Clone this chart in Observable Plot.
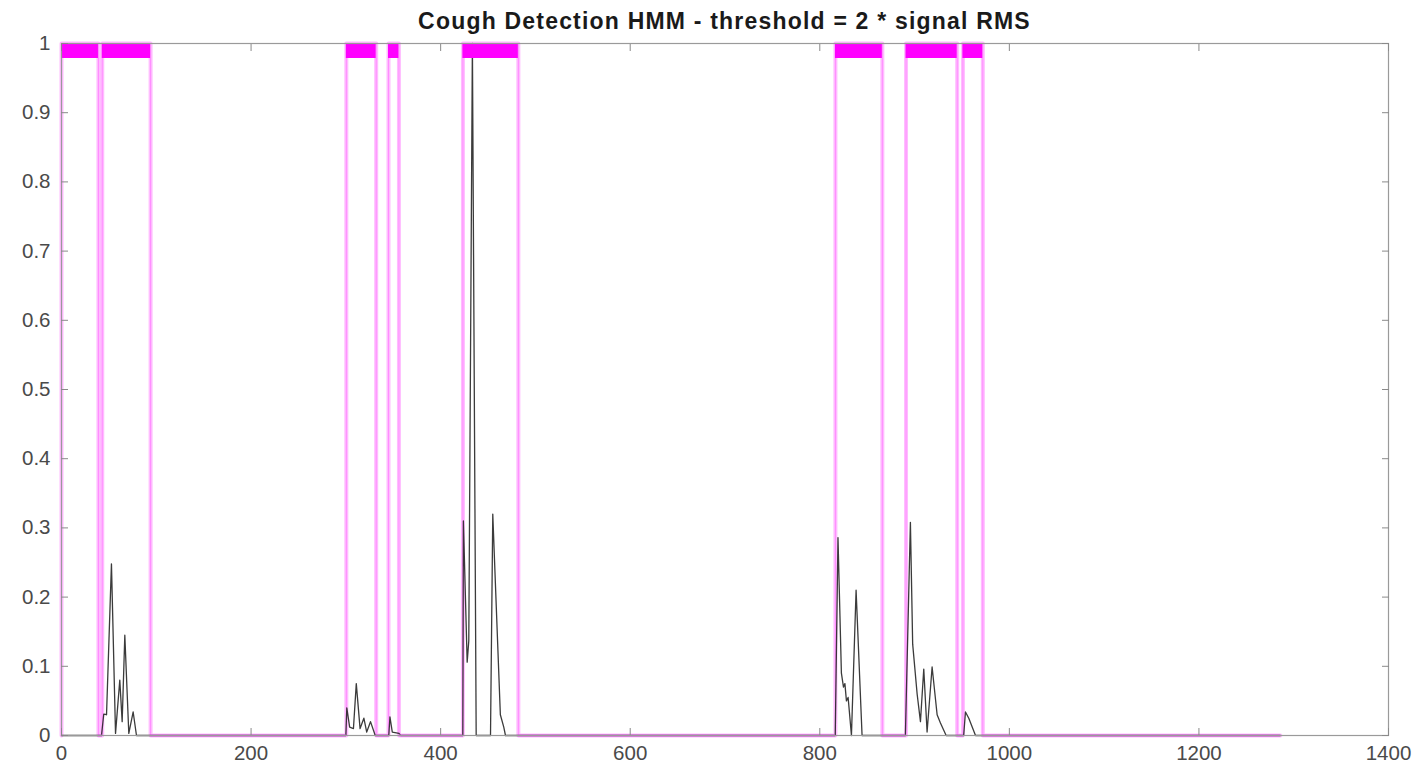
<!DOCTYPE html>
<html>
<head>
<meta charset="utf-8">
<script src="https://cdn.jsdelivr.net/npm/d3@7"></script>
<script src="https://cdn.jsdelivr.net/npm/@observablehq/plot@0.6"></script>
<style>
  body { margin: 0; background: #fff; }
  #wrap { width: 1417px; height: 773px; position: relative; background: #fff; }
  #title {
    position: relative; z-index: 2;
    box-sizing: border-box; height: 30px; padding-top: 10px;
    padding-left: 61px; padding-right: 29px;
    font-family: "Liberation Sans", Arial, Helvetica, sans-serif;
    font-weight: bold; font-size: 23px; line-height: 23px; letter-spacing: 1.2px;
    text-align: center; color: #1a1a1a; white-space: nowrap;
  }
</style>
</head>
<body>
<div id="wrap">
  <div id="title">Cough Detection HMM - threshold = 2 * signal RMS</div>
  <div id="chart"></div>
</div>
<script>
// Detected cough intervals (HMM state = 1)
const coughStart = [0, 43, 300.5, 345, 423.5, 816.5, 891, 951];
const coughEnd   = [39, 94, 332, 356, 482, 866, 945, 972];
const signalEnd = 1286;

// Normalised signal envelope (key points)
const sigX = [0, 42.2, 44.6, 47.5, 52.7, 57, 61.5, 64, 66.8, 71, 75.6, 79.1,
  300, 301, 304, 308, 311, 315, 319, 322, 326, 331,
  345.3, 346.5, 349, 356, 358,
  423.4, 424, 428, 429.7, 433.5, 437.5, 452.6, 455, 463, 466.6, 468.4,
  816.3, 819.2, 822.8, 825, 826.5, 828.1, 829.9, 833.4, 838.3, 844.6,
  890.3, 895.6, 898, 902.7, 906.2, 909.7, 913.2, 918.5, 923.8, 927.3, 933.3,
  951.8, 953.7, 957.2, 964.3,
  1286];
const sigY = [0, 0, 0.031, 0.03, 0.248, 0.003, 0.08, 0.02, 0.145, 0.003, 0.034, 0,
  0, 0.04, 0.012, 0.01, 0.075, 0.01, 0.025, 0.005, 0.02, 0,
  0, 0.027, 0.005, 0.003, 0,
  0, 0.31, 0.106, 0.137, 1.0, 0, 0, 0.32, 0.03, 0.012, 0,
  0, 0.286, 0.09, 0.07, 0.075, 0.05, 0.055, 0, 0.21, 0,
  0, 0.308, 0.132, 0.06, 0.02, 0.096, 0.005, 0.099, 0.03, 0.018, 0,
  0, 0.034, 0.025, 0,
  0];

const xTicks = [0, 200, 400, 600, 800, 1000, 1200, 1400];
const xTickLabels = ["0", "200", "400", "600", "800", "1000", "1200", "1400"];
const yTicks = [0, 0.1, 0.2, 0.3, 0.4, 0.5, 0.6, 0.7, 0.8, 0.9, 1];
const yTickLabels = ["0", "0.1", "0.2", "0.3", "0.4", "0.5", "0.6", "0.7", "0.8", "0.9", "1"];

// Tables built from the arrays
const signal = sigX.map((x, i) => ({x, y: sigY[i]}));
const intervals = coughStart.map((s, i) => ({start: s, end: coughEnd[i], state: 1}));
const steps = [{x: 0, y: 0}];
intervals.forEach(d => {
  steps.push({x: d.start, y: 0}, {x: d.start, y: d.state}, {x: d.end, y: d.state}, {x: d.end, y: 0});
});
steps.push({x: signalEnd, y: 0});
const gaps = [];
let prev = 0;
intervals.forEach(d => { if (d.start > prev) gaps.push({a: prev, b: d.start, state: 0}); prev = d.end; });
gaps.push({a: prev, b: signalEnd, state: 0});

const font = "Liberation Sans, Arial, Helvetica, sans-serif";
const tickColor = "#8a8a8a";
const labelColor = "#4a4a4a";

const chart = Plot.plot({
  width: 1417,
  height: 743,
  marginLeft: 61,
  marginRight: 29,
  marginTop: 13,
  marginBottom: 38,
  x: {domain: [0, 1400]},
  y: {domain: [0, 1]},
  style: {fontFamily: font, fontSize: "20px", background: "white", overflow: "visible"},
  marks: [
    Plot.line(steps, {x: "x", y: "y", stroke: "#ffbcff", strokeWidth: 4}),
    Plot.line(steps, {x: "x", y: "y", stroke: "#ff8cff", strokeWidth: 1}),
    Plot.line(signal, {x: "x", y: "y", stroke: "#262626", strokeWidth: 1.3, strokeOpacity: 0.9}),
    Plot.ruleY(gaps, {x1: "a", x2: "b", y: "state", stroke: "#e066e8", strokeWidth: 2}),
    Plot.ruleY(intervals, {x1: "start", x2: "end", y: "state", stroke: "#ff00ff", strokeWidth: 29, clip: true}),
    Plot.frame({stroke: "#9a9a9a", strokeWidth: 1.2}),
    Plot.axisX(xTicks, {anchor: "bottom", tickSize: -7, tickPadding: 17, label: null,
      tickFormat: (d, i) => xTickLabels[i], stroke: tickColor, fill: labelColor, fontSize: 20.5}),
    Plot.axisX(xTicks, {anchor: "top", tickSize: -7, label: null,
      tickFormat: () => "", stroke: tickColor}),
    Plot.axisY(yTicks, {anchor: "left", tickSize: -7, tickPadding: 18, label: null,
      tickFormat: (d, i) => yTickLabels[i], stroke: tickColor, fill: labelColor, fontSize: 20.5}),
    Plot.axisY(yTicks, {anchor: "right", tickSize: -7, label: null,
      tickFormat: () => "", stroke: tickColor})
  ]
});
document.getElementById("chart").appendChild(chart);
</script>
</body>
</html>
